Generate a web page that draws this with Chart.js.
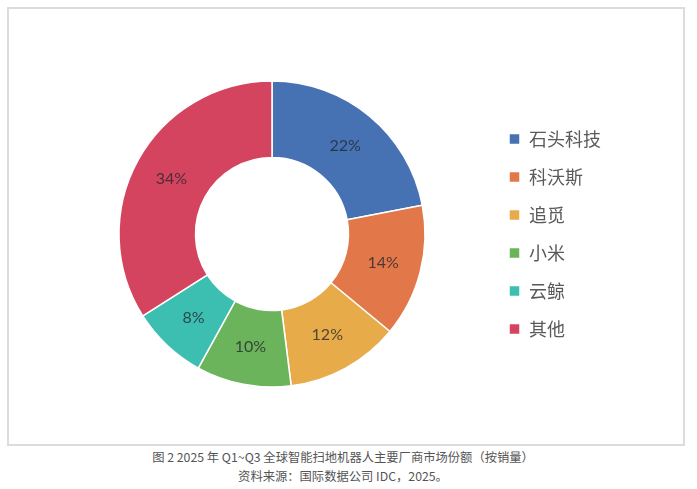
<!DOCTYPE html>
<html>
<head>
<meta charset="utf-8">
<script src="https://cdn.jsdelivr.net/npm/chart.js@4/dist/chart.umd.min.js"></script>
<style>
  body { margin: 0; background: #fff; width: 697px; height: 489px; position: relative; overflow: hidden; }
  #frame { position: absolute; left: 7px; top: 7px; width: 674px; height: 435px; border: 2px solid #dcdcdc; }
  #wrap { position: absolute; left: 0; top: 0; width: 674px; height: 435px; }
  .cap { position: absolute; left: 0; width: 686px; text-align: center; font-family: "Noto Sans CJK SC", sans-serif; font-size: 12.3px; color: #555; }
</style>
</head>
<body>
<div id="frame"><div id="wrap"><canvas id="share"></canvas></div></div>
<div class="cap" style="top:448px">图 2 2025 年 Q1~Q3 全球智能扫地机器人主要厂商市场份额（按销量）</div>
<div class="cap" style="top:467px">资料来源：国际数据公司 IDC，2025。</div>
<script>
const vendors = ["石头科技", "科沃斯", "追觅", "小米", "云鲸", "其他"];
const shares = [22, 14, 12, 10, 8, 34];
const colors = ['#4672B4', '#E2784A', '#E8AB4A', '#6CB45C', '#3CBFB1', '#D5445F'];

// percent text in the middle of each ring segment
const sliceLabels = {
  id: 'sliceLabels',
  afterDatasetsDraw(chart) {
    const ctx = chart.ctx;
    const meta = chart.getDatasetMeta(0);
    ctx.save();
    ctx.font = '16px Lato, "Open Sans", sans-serif';
    ctx.fillStyle = 'rgba(35, 40, 45, 0.78)';
    ctx.textAlign = 'center';
    ctx.textBaseline = 'middle';
    meta.data.forEach((arc, i) => {
      const p = arc.tooltipPosition();
      ctx.fillText(shares[i] + '%', p.x, p.y);
    });
    ctx.restore();
  }
};

const ctxShare = document.getElementById('share').getContext('2d');

const shareChart = new Chart(ctxShare, {
  type: 'doughnut',
  data: {
    labels: vendors,
    datasets: [{
      data: shares,
      backgroundColor: colors,
      borderColor: '#ffffff',
      borderWidth: 1.5,
      radius: 153
    }]
  },
  options: {
    responsive: true,
    maintainAspectRatio: false,
    animation: false,
    cutout: '50%',
    layout: {
      padding: { left: 46, right: 72, top: 15, bottom: 0 }
    },
    plugins: {
      tooltip: { enabled: false },
      legend: {
        display: true,
        position: 'right',
        labels: {
          boxWidth: 11,
          boxHeight: 11,
          padding: 20,
          color: '#5a5a5a',
          font: { family: '"Noto Sans CJK SC", sans-serif', size: 18 }
        }
      }
    }
  },
  plugins: [sliceLabels]
});
</script>
</body>
</html>
